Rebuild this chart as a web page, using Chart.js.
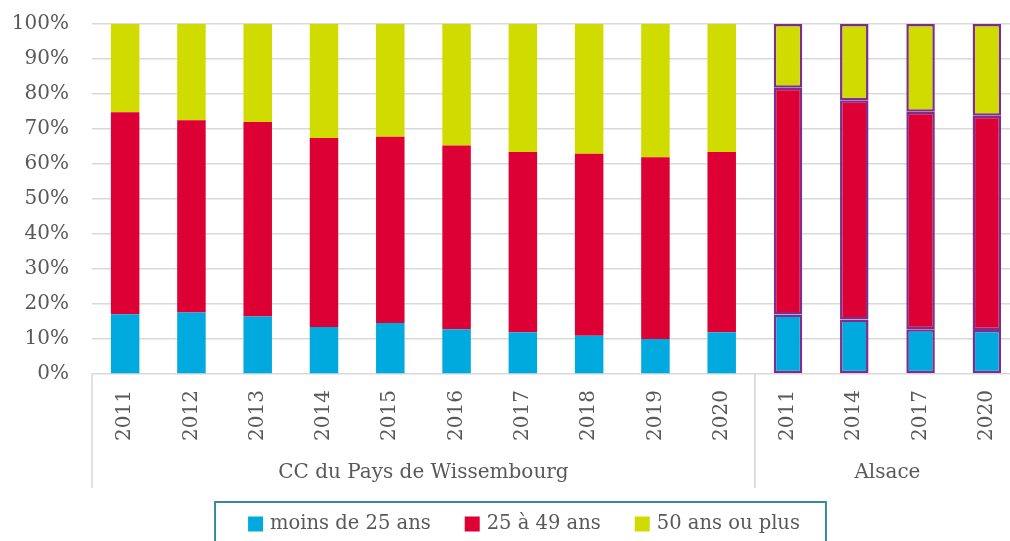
<!DOCTYPE html>
<html>
<head>
<meta charset="utf-8">
<script src="https://cdn.jsdelivr.net/npm/chart.js@4/dist/chart.umd.min.js"></script>
<style>
  html, body { margin: 0; padding: 0; overflow: hidden; background: #fff; }
  #wrap { width: 1030px; height: 541px; }
</style>
</head>
<body>
<div id="wrap"><canvas id="graphique"></canvas></div>
<script>
// donnees (parts en %)
const annees = ["2011","2012","2013","2014","2015","2016","2017","2018","2019","2020","2011","2014","2017","2020"];
const groupes = ["CC du Pays de Wissembourg", "Alsace"];
const tailleGroupes = [10, 4];

const moins25 = [17.1, 17.6, 16.4, 13.4, 14.6, 12.8, 11.9, 10.9, 10.0, 11.9, 17.0, 15.6, 12.8, 12.6];
const de25a49 = [57.7, 54.9, 55.6, 54.0, 53.2, 52.5, 51.5, 52.0, 51.9, 51.5, 64.8, 62.6, 62.1, 61.2];
const plus50  = [25.2, 27.5, 28.0, 32.6, 32.2, 34.7, 36.6, 37.1, 38.1, 36.6, 18.2, 21.8, 25.1, 26.2];

const yTicks = [0, 10, 20, 30, 40, 50, 60, 70, 80, 90, 100];

// couleurs
const bleu = "rgb(0,170,222)";
const rouge = "rgb(221,0,52)";
const jaune = "rgb(208,219,0)";
const violet = "rgb(125,45,140)";
const gris_texte = "rgb(89,89,89)";
const gris_grille = "rgb(217,217,217)";
const police = "'DejaVu Serif', serif";

// bordure violette seulement pour les barres Alsace
const debutAlsace = tailleGroupes[0];
const bordure = ctx => ctx.dataIndex >= debutAlsace ? 2.5 : 0;

function serie(label, data, couleur) {
    return {
        label: label,
        data: data,
        backgroundColor: couleur,
        borderColor: violet,
        borderWidth: bordure,
        borderSkipped: false,
        barPercentage: 0.43,
        categoryPercentage: 1.0
    };
}

const groupesPlugin = {
    id: "groupes",
    afterDraw(chart) {
        const ctx = chart.ctx;
        const xs = chart.scales.x;
        const area = chart.chartArea;
        const pas = xs.getPixelForValue(1) - xs.getPixelForValue(0);
        ctx.save();
        // separateurs et noms de groupes
        ctx.strokeStyle = gris_grille;
        ctx.lineWidth = 1.5;
        ctx.fillStyle = gris_texte;
        ctx.font = "20px " + police;
        ctx.textAlign = "center";
        ctx.textBaseline = "middle";
        let i0 = 0;
        groupes.forEach((nom, g) => {
            const gauche = xs.getPixelForValue(i0) - pas / 2;
            const droite = xs.getPixelForValue(i0 + tailleGroupes[g] - 1) + pas / 2;
            [gauche, droite].forEach(x => {
                ctx.beginPath();
                ctx.moveTo(x, area.bottom);
                ctx.lineTo(x, 488);
                ctx.stroke();
            });
            ctx.fillText(nom, (gauche + droite) / 2, 473);
            i0 += tailleGroupes[g];
        });

        // legende
        ctx.font = "19.5px " + police;
        const carre = 15, ecart = 34, interne = 7, yl = 524;
        const items = chart.data.datasets.map(d => ({
            txt: d.label, col: d.backgroundColor, w: ctx.measureText(d.label).width
        }));
        let total = 0;
        items.forEach((it, k) => { total += carre + interne + it.w + (k ? ecart : 0); });
        const cx = chart.width / 2 + 9;
        const boxL = cx - total / 2 - 33, boxR = cx + total / 2 + 26;
        ctx.strokeStyle = "rgb(58,135,158)";
        ctx.lineWidth = 2;
        ctx.strokeRect(boxL, 502, boxR - boxL, 60);
        let x = cx - total / 2;
        ctx.textAlign = "left";
        items.forEach(it => {
            ctx.fillStyle = it.col;
            ctx.fillRect(x, yl - carre / 2, carre, carre);
            x += carre + interne;
            ctx.fillStyle = gris_texte;
            ctx.fillText(it.txt, x, yl);
            x += it.w + ecart;
        });
        ctx.restore();
    }
};

new Chart(document.getElementById("graphique"), {
    type: "bar",
    data: {
        labels: annees,
        datasets: [
            serie("moins de 25 ans", moins25, bleu),
            serie("25 à 49 ans", de25a49, rouge),
            serie("50 ans ou plus", plus50, jaune)
        ]
    },
    options: {
        responsive: true,
        maintainAspectRatio: false,
        animation: false,
        layout: { padding: { top: 24, right: 10, bottom: 51, left: 0 } },
        plugins: {
            legend: { display: false },
            tooltip: { enabled: false }
        },
        scales: {
            x: {
                stacked: true,
                grid: { display: false, drawTicks: false },
                border: { display: false },
                ticks: {
                    color: gris_texte,
                    font: { family: police, size: 20 },
                    minRotation: 90,
                    maxRotation: 90,
                    padding: 16,
                    autoSkip: false
                },
                afterFit(scale) { scale.height = 116; }
            },
            y: {
                stacked: true,
                min: 0,
                max: 100,
                afterBuildTicks(scale) { scale.ticks = yTicks.map(v => ({ value: v })); },
                grid: { color: gris_grille, lineWidth: 1.5, drawTicks: false },
                border: { display: false },
                ticks: {
                    color: gris_texte,
                    font: { family: police, size: 20 },
                    padding: 23,
                    callback: v => v + "%"
                },
                afterFit(scale) {
                    scale.width = 92;
                    scale.paddingTop = 0;
                    scale.paddingBottom = 0;
                }
            }
        }
    },
    plugins: [groupesPlugin]
});
</script>
</body>
</html>
